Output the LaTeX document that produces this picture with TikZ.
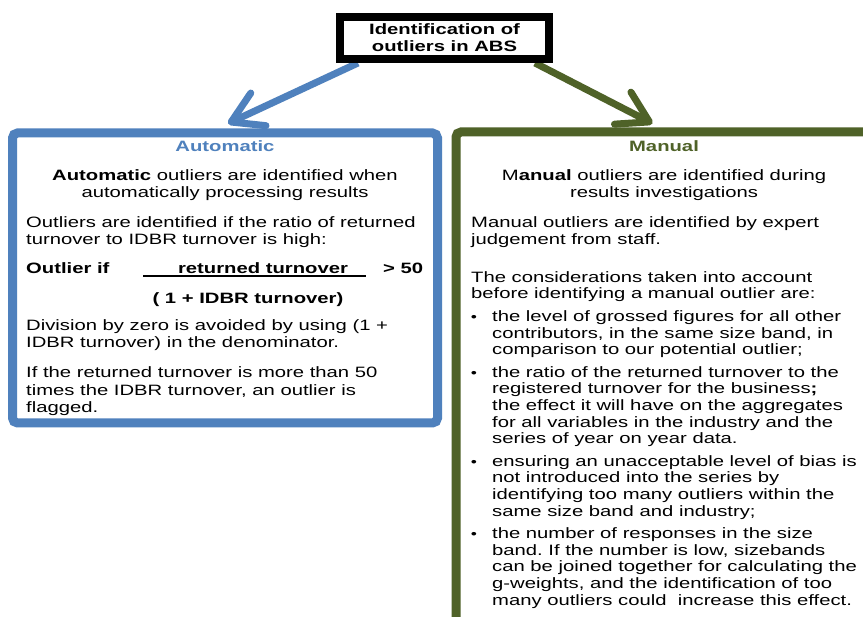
\documentclass[tikz,border=0pt]{standalone}
\usepackage{fontspec}
\setmainfont{Liberation Sans}[FakeStretch=1.35]
\usetikzlibrary{arrows.meta,calc}
\pgfdeclarelayer{background}
\pgfsetlayers{background,main}
\definecolor{bluec}{HTML}{4F81BD}
\definecolor{greenc}{HTML}{4F6228}
\newcommand{\bodyfont}{\fontsize{15}{16.6}\selectfont\frenchspacing}
\tikzset{
  txt/.style={inner sep=0pt, anchor=base west, font=\bodyfont},
  ctxt/.style={inner sep=0pt, anchor=base, font=\bodyfont},
  btxt/.style={txt, font=\bodyfont\bfseries},
  bctxt/.style={ctxt, font=\bodyfont\bfseries},
  bul/.style={inner sep=0pt, anchor=base, font=\fontsize{13}{16.6}\selectfont},
  panel/.style={line width=9pt, rounded corners=5pt, fill=white, inner sep=0pt},
  arr/.style={line width=7pt, -{Straight Barb[round,length=30pt,width=36pt]}},
}
\begin{document}
\begin{tikzpicture}[x=1pt,y=-1pt]
\useasboundingbox (0,0) rectangle (863,617);

% panels
\node[panel, draw=bluec, minimum width=425pt, minimum height=290pt] (autobox) at (225,278) {};
\node[panel, draw=greenc, minimum width=429pt, minimum height=518pt] (manbox) at (670.5,391) {};

% title
\node[draw=black, line width=8pt, fill=white, minimum width=209pt, minimum height=42pt,
      inner sep=0pt, align=center, font=\fontsize{15}{17}\selectfont\bfseries] (title) at (444.5,38)
      {Identification of\\outliers in ABS};

% arrows
\coordinate (tipA) at ($(autobox.north)+(3,-5)$);
\coordinate (tipM) at ($(manbox.north west)+(201,-4)$);
\begin{pgfonlayer}{background}
\fill[white] (0,0) rectangle (863,617);
\draw[arr, draw=bluec] ($(title.south west)+(22,0)$) -- (tipA);
\draw[arr, draw=greenc] ($(title.south east)+(-18,0)$) -- (tipM);
\end{pgfonlayer}

% Automatic panel
\node[bctxt, text=bluec] (ah) at (225,151.3) {Automatic};
\node[ctxt] (a1) at (225,180.3) {\textbf{Automatic} outliers are identified when};
\node[ctxt] (a2) at (225,197.3) {automatically processing results};
\node[txt] (a3) at (26,227.3) {Outliers are identified if the ratio of returned};
\node[txt] (a4) at (26,244.3) {turnover to IDBR turnover is high:};
\node[btxt] (a5) at (26,273.3) {Outlier if};
\node[bctxt] (a6) at (263,273.3) {returned turnover};
\node[btxt] (a7) at (383,273.3) {> 50};
\draw[line width=1.3pt] (143,276) -- (366,276);
\node[bctxt] (a8) at (248,303.3) {( 1 + IDBR turnover)};
\node[txt] (a9) at (26,330.3) {Division by zero is avoided by using (1 +};
\node[txt] (a10) at (26,347.3) {IDBR turnover) in the denominator.};
\node[txt] (a11) at (26,377.3) {If the returned turnover is more than 50};
\node[txt] (a12) at (26,395.3) {times the IDBR turnover, an outlier is};
\node[txt] (a13) at (26,413) {flagged.};

% Manual panel
\node[bctxt, text=greenc] (mh) at (664,151.3) {Manual};
\node[ctxt] (m1) at (664,180.3) {M\textbf{anual} outliers are identified during};
\node[ctxt] (m2) at (664,197.3) {results investigations};
\node[txt] (m3) at (471,227.3) {Manual outliers are identified by expert};
\node[txt] (m4) at (471,245) {judgement from staff.};
\node[txt] (m5) at (471,282.3) {The considerations taken into account};
\node[txt] (m6) at (471,298.9) {before identifying a manual outlier are:};

\node[bul] (bu1) at (474,321.5) {•};
\node[txt] (b11) at (492,321.5) {the level of grossed figures for all other};
\node[txt] (b12) at (492,338.1) {contributors, in the same size band, in};
\node[txt] (b13) at (492,354.7) {comparison to our potential outlier;};

\node[bul] (bu2) at (474,377.3) {•};
\node[txt] (b21) at (492,377.3) {the ratio of the returned turnover to the};
\node[txt] (b22) at (492,393.9) {registered turnover for the business\textbf{;}};
\node[txt] (b23) at (492,410.5) {the effect it will have on the aggregates};
\node[txt] (b24) at (492,427.1) {for all variables in the industry and the};
\node[txt] (b25) at (492,443.7) {series of year on year data.};

\node[bul] (bu3) at (474,466.3) {•};
\node[txt] (b31) at (492,466.3) {ensuring an unacceptable level of bias is};
\node[txt] (b32) at (492,482.9) {not introduced into the series by};
\node[txt] (b33) at (492,499.5) {identifying too many outliers within the};
\node[txt] (b34) at (492,516.1) {same size band and industry;};

\node[bul] (bu4) at (474,538.7) {•};
\node[txt] (b41) at (492,538.7) {the number of responses in the size};
\node[txt] (b42) at (492,555.3) {band. If the number is low, sizebands};
\node[txt] (b43) at (492,571.9) {can be joined together for calculating the};
\node[txt] (b44) at (492,588.5) {g-weights, and the identification of too};
\node[txt] (b45) at (492,605.1) {many outliers could\ \ increase this effect.};
\end{tikzpicture}
\end{document}
